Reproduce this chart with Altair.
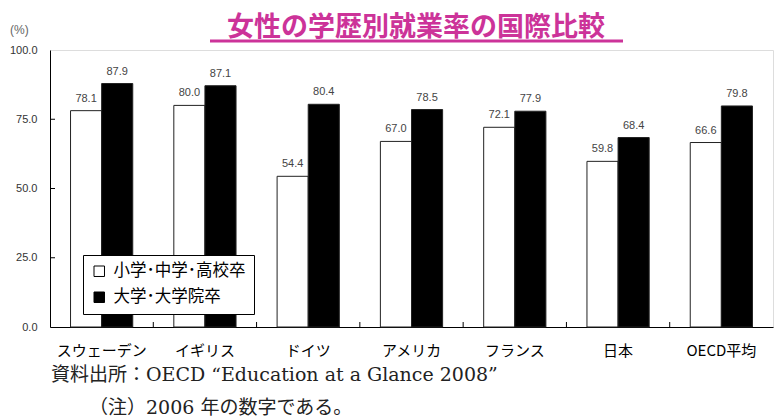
import altair as alt
import pandas as pd

countries = ["スウェーデン", "イギリス", "ドイツ", "アメリカ", "フランス", "日本", "OECD平均"]
series = ["小学･中学･高校卒", "大学･大学院卒"]
low_edu = [78.1, 80.0, 54.4, 67.0, 72.1, 59.8, 66.6]
high_edu = [87.9, 87.1, 80.4, 78.5, 77.9, 68.4, 79.8]
y_ticks = [0, 25, 50, 75, 100]

title_text = "女性の学歴別就業率の国際比較"
unit_text = "(%)"
source_text = "資料出所：OECD “Education at a Glance 2008”"
note_text = "（注）2006 年の数字である。"

W, H = 723, 277

rows = []
for c, a, b in zip(countries, low_edu, high_edu):
    rows.append({"country": c, "series": series[0], "value": a})
    rows.append({"country": c, "series": series[1], "value": b})
df = pd.DataFrame(rows)

xscale = alt.Scale(paddingInner=0, paddingOuter=0)
xenc = alt.X("country:N", sort=countries, scale=xscale,
             axis=alt.Axis(title=None, labelAngle=0, ticks=False, labelPadding=16,
                           labelFontSize=15, labelFont="Noto Sans CJK JP",
                           labelColor="#000", domainColor="#000"))
xoff = alt.XOffset("series:N", sort=series,
                   scale=alt.Scale(paddingInner=0, paddingOuter=0.66))
yenc = alt.Y("value:Q", scale=alt.Scale(domain=[0, 100], nice=False),
             axis=alt.Axis(title=None, values=y_ticks, format=".1f", ticks=False,
                           grid=False, labelPadding=13, labelFontSize=11,
                           labelFont="Liberation Sans", labelColor="#333",
                           domainColor="#000"))

bars = alt.Chart(df).mark_bar(stroke="#222", strokeWidth=1).encode(
    x=xenc, xOffset=xoff, y=yenc,
    fill=alt.Fill("series:N", sort=series,
                  scale=alt.Scale(domain=series, range=["#ffffff", "#000000"]),
                  legend=alt.Legend(title=None, orient="none", legendX=33, legendY=205,
                                    strokeColor="#000", fillColor="#fff", padding=8,
                                    rowPadding=9, symbolType="square", symbolSize=110,
                                    symbolStrokeColor="#000", symbolStrokeWidth=1,
                                    labelFontSize=16.5, labelFont="Noto Sans CJK JP",
                                    labelColor="#000", labelLimit=300, labelOffset=6)),
)

labels = alt.Chart(df).mark_text(baseline="bottom", dy=-7, fontSize=11,
                                 font="Liberation Sans", color="#444").encode(
    x=alt.X("country:N", sort=countries), xOffset=xoff, y="value:Q",
    text=alt.Text("value:Q", format=".1f"),
)

sep_df = pd.DataFrame({"country": countries[1:]})
seps = alt.Chart(sep_df).mark_rule(color="#000", strokeWidth=1).encode(
    x=alt.X("country:N", sort=countries, bandPosition=0),
    y=alt.value(H), y2=alt.value(H - 5),
)

ytick_df = pd.DataFrame({"value": y_ticks[1:-1]})
yticks = alt.Chart(ytick_df).mark_rule(color="#000", strokeWidth=1).encode(
    y="value:Q", x=alt.value(0), x2=alt.value(5),
)

one = alt.Data(values=[{}])
title = alt.Chart(one).mark_text(fontSize=27, fontWeight="bold", font="Noto Sans CJK JP",
                                 color="#cc3399", baseline="alphabetic").encode(
    x=alt.value(366), y=alt.value(-14), text=alt.value(title_text))
underline = alt.Chart(one).mark_rule(color="#cc3399", strokeWidth=3).encode(
    x=alt.value(160), x2=alt.value(573), y=alt.value(-9))
unit = alt.Chart(one).mark_text(fontSize=12, font="Liberation Sans", color="#666",
                                align="left").encode(
    x=alt.value(-40), y=alt.value(-20), text=alt.value(unit_text))
source = alt.Chart(one).mark_text(fontSize=19, font="DejaVu Serif, Noto Sans CJK JP",
                                  color="#222", align="left").encode(
    x=alt.value(1), y=alt.value(325), text=alt.value(source_text))
note = alt.Chart(one).mark_text(fontSize=19, font="DejaVu Serif, Noto Sans CJK JP",
                                color="#222", align="left").encode(
    x=alt.value(39), y=alt.value(358), text=alt.value(note_text))

chart = alt.layer(bars, labels, seps, yticks, title, underline, unit, source, note).properties(
    width=W, height=H,
    autosize=alt.AutoSizeParams(type="none"),
    padding={"left": 42, "top": 42, "right": 1, "bottom": 96},
).configure_view(stroke="#000", strokeWidth=1).configure(background="#fff")

chart.save("out.html", embed_options={"renderer": "svg", "actions": False})
